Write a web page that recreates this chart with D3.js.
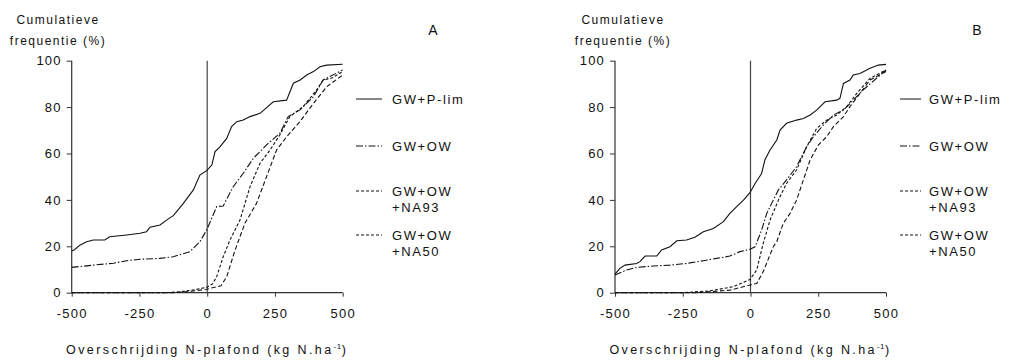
<!DOCTYPE html>
<html>
<head>
<meta charset="utf-8">
<script src="https://cdn.jsdelivr.net/npm/d3@7"></script>
<style>
  html, body { margin: 0; padding: 0; background: #fff; }
  svg { display: block; font-family: "Liberation Sans", Arial, Helvetica, sans-serif; }
  text { fill: #111; }
</style>
</head>
<body>
<svg id="chart" width="1013" height="360"></svg>
<script>
// Cumulative frequency (%) of exceeding the N ceiling (kg N/ha), two scenarios A and B.
const xTicks = [-500, -250, 0, 250, 500];
const yTicks = [0, 20, 40, 60, 80, 100];
const seriesNames = ["GW+P-lim", "GW+OW", "GW+OW\n+NA93", "GW+OW\n+NA50"];

// Panel A: [overschrijding, cumulatieve frequentie]
const aPlim = [[-500,18],[-490,18.5],[-470,20.5],[-445,22],[-420,22.7],[-378,22.7],[-360,24.1],[-297,24.9],[-248,25.6],[-224,26.3],[-211,28.2],[-174,29.2],[-150,31.3],[-125,33.2],[-88,38.5],[-51,44.3],[-27,50.7],[-2,52.6],[17,55],[29,60.8],[47,62.9],[72,66.5],[90,71.6],[109,73.7],[133,74.4],[158,75.9],[195,77.3],[244,82.3],[293,83],[318,90.3],[343,91.7],[367,93.8],[392,95.3],[416,97.4],[441,98.1],[500,98.5]];
const aOW = [[-500,10.9],[-420,11.9],[-346,12.7],[-297,13.8],[-248,14.4],[-174,14.8],[-125,15.5],[-64,17.7],[-27,22],[-2,27],[35,37.1],[59,37.4],[96,45.7],[133,51.5],[170,57.9],[219,63.7],[268,68.7],[299,75.9],[342,78.8],[392,84.5],[428,91.7],[500,96]];
const aNA93 = [[-500,0],[-150,0],[-100,0.4],[-50,1.2],[-2,2.3],[20,3.8],[35,6.9],[59,15.5],[84,22.7],[121,31.3],[158,45.7],[195,55.8],[232,61.5],[268,68],[305,75.9],[354,80.2],[404,87.4],[428,91.7],[460,92.5],[500,95.3]];
const aNA50 = [[-500,0],[-120,0],[-60,0.6],[-2,1.5],[51,3],[72,6.9],[103,18.4],[139,29.9],[182,38.5],[219,50],[256,61.5],[293,67.2],[342,73.7],[392,81.6],[441,88.8],[500,93.8]];

// Panel B
const bPlim = [[-500,8],[-482,10.5],[-463,11.9],[-420,12.6],[-408,13.4],[-389,15.8],[-346,15.8],[-328,18.4],[-297,19.8],[-272,22.4],[-236,22.7],[-205,23.9],[-174,26.3],[-137,27.7],[-100,30.6],[-76,34.2],[-51,37.1],[-26,39.9],[-2,43.1],[17,47.1],[41,51.4],[53,57.2],[72,61.5],[97,65.8],[109,70.1],[133,73],[170,74.4],[195,75.1],[220,76.6],[244,78.7],[275,82.3],[318,83],[330,83.8],[343,90.2],[367,91.7],[379,93.8],[404,94.5],[441,96.7],[472,98.1],[500,98.4]];
const bOW = [[-500,7.6],[-457,9.8],[-420,10.9],[-359,11.5],[-297,11.9],[-236,12.6],[-174,13.8],[-125,14.8],[-76,15.8],[-39,17.7],[-2,18.7],[17,19.8],[41,27],[60,34.2],[78,38.5],[103,44.3],[133,48.6],[170,54.3],[207,62.9],[232,67.2],[269,72.3],[306,76.6],[343,78.7],[379,83],[416,87.4],[500,96]];
const bNA93 = [[-500,0],[-250,0],[-150,0.8],[-63,2.6],[-2,5.7],[23,9.8],[47,21.3],[72,31.3],[103,39.9],[133,47.1],[170,52.9],[207,62.9],[244,70.8],[281,74.4],[318,76.6],[355,80.2],[392,85.9],[441,92.4],[500,96]];
const bNA50 = [[-500,0],[-200,0],[-76,1.1],[-2,3.3],[23,4],[47,9.1],[84,19.8],[97,22],[121,29.9],[146,34.2],[170,39.9],[195,48.6],[220,57.2],[250,63.6],[281,67.2],[306,71.6],[343,75.9],[367,80.2],[404,85.9],[441,91.7],[500,95.3]];

const dashes = [null, "7,2,1.5,2", "3,2", "4.5,2.5"];

const svg = d3.select("#chart");

const panels = [
  { label: "A", series: [aPlim, aOW, aNA93, aNA50], x0: 71.7, x1: 342.7,
    titleX: 58, letterX: 433, legLine: [356, 382], legText: 392 },
  { label: "B", series: [bPlim, bOW, bNA93, bNA50], x0: 615, x1: 886,
    titleX: 623, letterX: 977, legLine: [900, 921], legText: 929 }
];

const yTop = 60.7, yBot = 292.7;
const legendRows = [99, 146, 191, 235];

panels.forEach(p => {
  const x = d3.scaleLinear().domain([-500, 500]).range([p.x0, p.x1]);
  const y = d3.scaleLinear().domain([0, 100]).range([yBot, yTop]);
  const g = svg.append("g");

  // axes
  const xAxis = d3.axisBottom(x).tickValues(xTicks).tickSize(4).tickPadding(12).tickFormat(d => String(d));
  const yAxis = d3.axisLeft(y).tickValues(yTicks).tickSize(5).tickPadding(5);
  const gx = g.append("g").attr("transform", `translate(0,${yBot})`).call(xAxis);
  const gy = g.append("g").attr("transform", `translate(${p.x0},0)`).call(yAxis);
  [gx, gy].forEach(a => {
    a.select(".domain").attr("stroke", "#333").attr("stroke-width", 1.2);
    a.selectAll(".tick line").attr("stroke", "#333");
    a.selectAll(".tick text")
      .attr("fill", "#111")
      .style("font-size", "13px")
      .style("letter-spacing", "1.2px")
      .style("font-family", '"Liberation Sans", Arial, sans-serif');
  });
  gx.select(".domain").attr("d", `M${p.x0},0H${p.x1}`);
  gy.select(".domain").attr("d", `M0,${yBot}V${yTop}`);

  // vertical reference line at zero exceedance
  g.append("line")
    .attr("x1", x(0)).attr("x2", x(0))
    .attr("y1", y(100)).attr("y2", y(0))
    .attr("stroke", "#444").attr("stroke-width", 1.2);

  // series
  const line = d3.line().x(d => x(d[0])).y(d => y(d[1]));
  p.series.forEach((s, i) => {
    g.append("path")
      .datum(s)
      .attr("d", line)
      .attr("fill", "none")
      .attr("stroke", "#111")
      .attr("stroke-width", 1.1)
      .attr("stroke-dasharray", dashes[i]);
  });

  // y-axis title
  g.append("text").attr("x", p.titleX).attr("y", 24).attr("text-anchor", "middle")
    .style("font-size", "12px").style("letter-spacing", "1.5px").text("Cumulatieve");
  g.append("text").attr("x", p.titleX).attr("y", 45).attr("text-anchor", "middle")
    .style("font-size", "12px").style("letter-spacing", "1.5px").text("frequentie (%)");

  // panel letter
  g.append("text").attr("x", p.letterX).attr("y", 35).attr("text-anchor", "middle")
    .style("font-size", "14px").text(p.label);

  // x-axis title
  const xt = g.append("text").attr("x", x(0)).attr("y", 354).attr("text-anchor", "middle")
    .style("font-size", "12.5px").style("letter-spacing", "2.4px");
  xt.append("tspan").text("Overschrijding N-plafond (kg N.ha");
  xt.append("tspan").attr("dy", -5).style("font-size", "8px").style("letter-spacing", "0.5px").text("-1");
  xt.append("tspan").attr("dy", 5).text(")");

  // legend
  seriesNames.forEach((name, i) => {
    const ly = legendRows[i];
    g.append("line")
      .attr("x1", p.legLine[0]).attr("x2", p.legLine[1])
      .attr("y1", ly).attr("y2", ly)
      .attr("stroke", "#111").attr("stroke-width", 1)
      .attr("stroke-dasharray", i >= 2 ? "3,2" : dashes[i]);
    name.split("\n").forEach((part, k) => {
      g.append("text").attr("x", p.legText).attr("y", ly + 4.5 + k * 16)
        .style("font-size", "13px").style("letter-spacing", "1.6px").text(part);
    });
  });
});
</script>
</body>
</html>
